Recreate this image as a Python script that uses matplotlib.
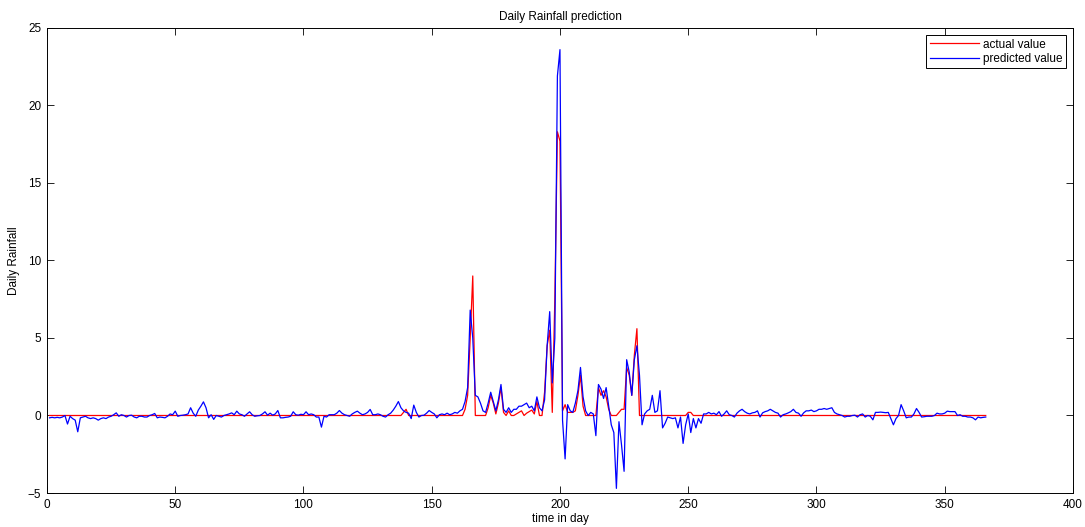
import matplotlib
matplotlib.use("Agg")
import matplotlib.pyplot as plt

plt.rcParams['font.family'] = ['Liberation Sans', 'DejaVu Sans']

# observed daily rainfall (days 1..366)
actual = [
    # days 1-120
    0, 0, 0, 0, 0, 0, 0, 0, 0, 0, 0, 0, 0, 0, 0, 0, 0, 0, 0, 0,
    0, 0, 0, 0, 0, 0, 0, 0, 0, 0, 0, 0, 0, 0, 0, 0, 0, 0, 0, 0,
    0, 0, 0, 0, 0, 0, 0, 0, 0, 0, 0, 0, 0, 0, 0, 0, 0, 0, 0, 0,
    0, 0, 0, 0, 0, 0, 0, 0, 0, 0, 0, 0, 0, 0, 0, 0, 0, 0, 0, 0,
    0, 0, 0, 0, 0, 0, 0, 0, 0, 0, 0, 0, 0, 0, 0, 0, 0, 0, 0, 0,
    0, 0, 0, 0, 0, 0, 0, 0, 0, 0, 0, 0, 0, 0, 0, 0, 0, 0, 0, 0,
    # days 121-260
    0, 0, 0, 0, 0, 0, 0, 0, 0, 0,
    0, 0, 0, 0, 0, 0, 0, 0, 0.2, 0.4,
    0, 0, 0, 0, 0, 0, 0, 0, 0, 0,
    0, 0, 0, 0, 0, 0, 0, 0, 0, 0,
    0, 0, 0.4, 1.3, 5.0, 9.0, 0, 0, 0, 0,
    0, 0.5, 1.3, 0.8, 0.1, 0.8, 1.8, 0.2, 0, 0.3,
    0, 0, 0.1, 0.2, 0.3, 0, 0.15, 0.25, 0.35, 0.1,
    0.9, 0, 0, 1.5, 4.5, 5.5, 0.2, 7.5, 18.3, 17.7,
    0.3, 0.7, 0.2, 0.2, 0.2, 0.3, 1.3, 2.6, 0.6, 0,
    0, 0, 0, 0, 1.8, 1.3, 1.6, 1.2, 0.4, 0,
    0, 0, 0.2, 0.4, 0.4, 3.1, 2.6, 1.3, 3.9, 5.6,
    0, 0, 0, 0, 0, 0, 0, 0, 0, 0,
    0, 0, 0, 0, 0, 0, 0, 0, 0, 0.2,
    0.2, 0, 0, 0, 0, 0, 0, 0, 0, 0,
    # days 261-366
    0, 0, 0, 0, 0, 0, 0, 0, 0, 0, 0, 0, 0, 0, 0, 0, 0, 0, 0, 0,
    0, 0, 0, 0, 0, 0, 0, 0, 0, 0, 0, 0, 0, 0, 0, 0, 0, 0, 0, 0,
    0, 0, 0, 0, 0, 0, 0, 0, 0, 0, 0, 0, 0, 0, 0, 0, 0, 0, 0, 0,
    0, 0, 0, 0, 0, 0, 0, 0, 0, 0, 0, 0, 0, 0, 0, 0, 0, 0, 0, 0,
    0, 0, 0, 0, 0, 0, 0, 0, 0, 0, 0, 0, 0, 0, 0, 0, 0, 0, 0, 0,
    0, 0, 0, 0, 0, 0,
]

# model output (days 1..366)
predicted = [
    -0.15, -0.12, -0.15, -0.12, -0.15, -0.1, 0.0, -0.55, -0.05, -0.2,
    -0.3, -1.05, -0.15, -0.1, -0.05, -0.15, -0.2, -0.15, -0.2, -0.3,
    -0.2, -0.15, -0.2, -0.1, -0.05, 0.05, 0.17, -0.05, 0.05, 0.0,
    -0.1, 0.0, 0.02, -0.1, -0.15, -0.05, -0.05, -0.1, -0.1, 0.0,
    0.05, 0.13, -0.15, -0.1, -0.12, -0.15, -0.05, 0.1, 0.05, 0.28,
    -0.05, 0.0, 0.02, 0.05, 0.1, 0.5, 0.15, -0.05, 0.35, 0.6,
    0.88, 0.5, -0.15, 0.05, -0.25, 0.0, -0.05, -0.1, 0.0, 0.05,
    0.1, 0.17, 0.05, 0.28, 0.1, 0.05, -0.05, 0.1, 0.24, 0.05,
    -0.05, -0.02, 0.0, 0.1, 0.24, 0.02, 0.15, 0.02, 0.1, 0.32,
    -0.15, -0.15, -0.12, -0.1, -0.05, 0.24, 0.05, 0.02, 0.08, 0.05,
    0.24, 0.05, 0.1, 0.05, -0.1, -0.1, -0.75, -0.05, -0.1, 0.05,
    0.05, 0.05, 0.15, 0.32, 0.15, 0.05, 0.0, -0.05, 0.1, 0.2,
    0.28, 0.15, 0.05, 0.1, 0.2, 0.39, 0.05, 0.05, 0.1, 0.05,
    -0.05, -0.1, 0.05, 0.15, 0.35, 0.6, 0.9, 0.5, 0.3, 0.2,
    0.15, -0.2, 0.67, 0.2, -0.1, 0.0, 0.02, 0.15, 0.32, 0.2,
    0.1, -0.15, 0.05, 0.1, 0.05, 0.15, 0.05, 0.1, 0.2, 0.15,
    0.3, 0.4, 0.9, 1.8, 6.8, 5.0, 1.3, 1.2, 0.8, 0.3,
    0.2, 0.8, 1.5, 0.9, 0.3, 1.0, 2.0, 0.4, 0.2, 0.5,
    0.2, 0.4, 0.4, 0.6, 0.6, 0.7, 0.8, 0.5, 0.6, 0.3,
    1.2, 0.5, 0.3, 1.0, 4.5, 6.7, 2.1, 5.0, 21.9, 23.6,
    -0.3, -2.8, 0.7, 0.3, 0.2, 0.8, 1.6, 3.1, 1.2, 0.3,
    0.0, 0.2, 0.1, -1.3, 2.0, 1.7, 1.1, 1.8, 0.6, -0.6,
    -1.1, -4.7, -0.4, -1.9, -3.6, 3.6, 2.8, 1.3, 3.6, 4.5,
    2.6, -0.6, 0.1, 0.3, 0.4, 1.3, 0.2, 0.3, 1.6, -0.8,
    -0.5, -0.1, -0.15, -0.2, -0.15, -0.8, -0.1, -1.8, -0.6, 0.1,
    -1.1, -0.2, -0.8, -0.2, -0.5, 0.1, 0.1, 0.2, 0.1, 0.15,
    0.05, 0.25, -0.05, 0.1, 0.3, 0.05, 0.0, -0.1, 0.15, 0.3,
    0.4, 0.25, 0.15, 0.1, 0.17, 0.2, 0.3, -0.1, 0.17, 0.25,
    0.3, 0.4, 0.3, 0.2, 0.15, -0.1, 0.05, 0.1, 0.17, 0.25,
    0.4, 0.2, 0.15, -0.05, 0.17, 0.3, 0.3, 0.35, 0.25, 0.3,
    0.4, 0.4, 0.45, 0.4, 0.45, 0.5, 0.2, 0.1, 0.05, 0.0,
    -0.1, -0.05, -0.05, 0.0, 0.02, -0.1, 0.05, 0.1, -0.1, 0.0,
    -0.05, -0.28, 0.2, 0.2, 0.22, 0.2, 0.18, 0.2, -0.2, -0.6,
    -0.2, 0.0, 0.7, 0.3, -0.15, -0.1, -0.1, 0.1, 0.45, 0.2,
    -0.1, -0.08, -0.05, -0.05, -0.05, 0.0, 0.15, 0.1, 0.1, 0.15,
    0.28, 0.25, 0.25, 0.25, 0.0, 0.05, -0.05, -0.05, -0.1, -0.1,
    -0.15, -0.28, -0.1, -0.15, -0.12, -0.1,
]

days = list(range(1, len(predicted) + 1))

fig = plt.figure(figsize=(10.85, 5.27), dpi=100)
ax = fig.add_axes([0.0433, 0.0645, 0.9456, 0.8825])

ax.plot(days, actual, color='red', lw=0.9, label='actual value')
ax.plot(days, predicted, color='blue', lw=0.9, label='predicted value')

ax.set_xlim(0, 400)
ax.set_ylim(-5, 25)
ax.set_xticks(range(0, 401, 50))
ax.set_yticks(range(-5, 26, 5))
ax.tick_params(direction='in', top=True, right=True, length=5, width=0.6,
               labelsize=8.5, pad=4)
for s in ax.spines.values():
    s.set_linewidth(0.7)

ax.set_xlabel('time in day', fontsize=8.5, labelpad=2)
ax.set_ylabel('Daily Rainfall', fontsize=8.5, labelpad=6)
ax.set_title('Daily Rainfall prediction', fontsize=8.5, pad=6)

leg = ax.legend(loc='upper right', fontsize=8.5, fancybox=False, framealpha=1,
                edgecolor='black', handlelength=4.2, borderpad=0.3,
                labelspacing=0.2, handletextpad=0.3, borderaxespad=0.6)
leg.get_frame().set_linewidth(0.7)

fig.savefig('out.png', dpi=100)
